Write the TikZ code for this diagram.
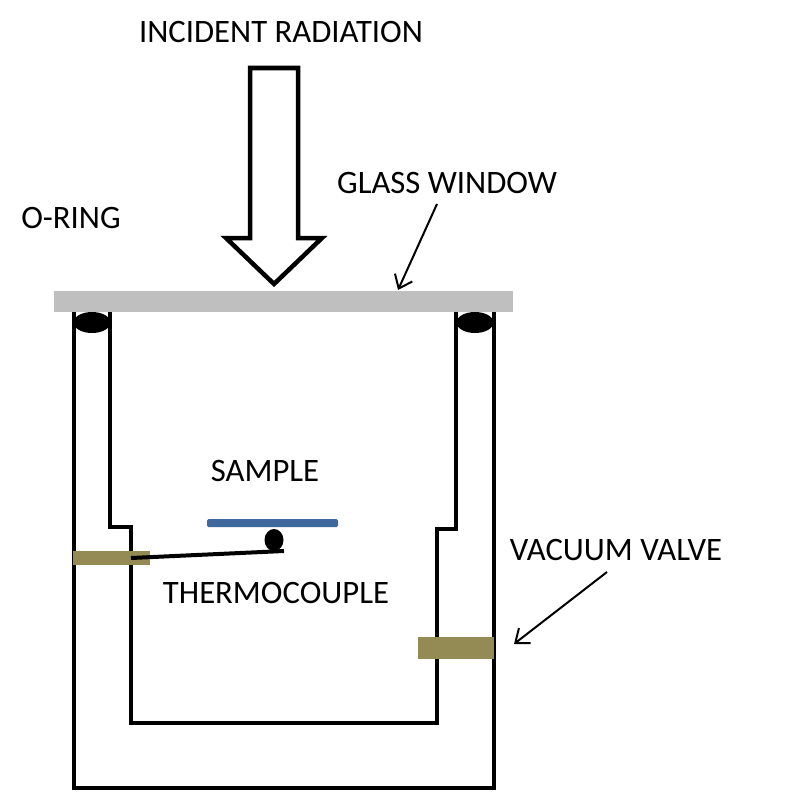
\documentclass[tikz,border=0pt]{standalone}
\usepackage{fontspec}
\setmainfont{Carlito}
\usetikzlibrary{shapes.geometric,arrows.meta}
\definecolor{glasscol}{HTML}{BFBFBF}
\definecolor{valvecol}{HTML}{948A54}
\definecolor{samplecol}{HTML}{3F689F}
\tikzset{
  x=1pt,y=-1pt,
  label/.style={inner sep=0pt,font=\fontsize{32.7}{36}\selectfont,text=black},
  wall/.style={draw=black,line width=4.5pt,miter limit=10},
  valve/.style={fill=valvecol,draw=none,inner sep=0pt,minimum height=0pt},
  ring/.style={ellipse,fill=black,draw=none,inner sep=0pt},
  pointer/.style={draw=black,line width=2pt,-{Straight Barb[length=12pt,width=19pt,line width=2pt]}}
}
\begin{document}
\begin{tikzpicture}
\useasboundingbox (0,0) rectangle (792,792);
\fill[white] (0,0) rectangle (792,792);
% chamber
\draw[wall] (74,312) -- (74,788) -- (494,788) -- (494,312);
\draw[wall] (110,312) -- (110,527) -- (131,527) -- (131,723) -- (437,723) -- (437,529) -- (456,529) -- (456,312);
% glass
\node[fill=glasscol,inner sep=0pt,minimum width=459pt,minimum height=21pt,anchor=north west] (glass) at (54,291) {};
% o-rings
\node[ring,minimum width=37pt,minimum height=21pt] (ringl) at (92,322.5) {};
\node[ring,minimum width=37pt,minimum height=21pt] (ringr) at (475,322.5) {};
% incident arrow
\draw[wall,fill=white] (250,68) -- (298,68) -- (298,238) -- (322,238) -- (274,284) -- (226,238) -- (250,238) -- cycle;
% sample
\node[fill=samplecol,rounded corners=1.5pt,inner sep=0pt,minimum width=131pt,minimum height=8pt] (sample) at (272.5,523) {};
\node[ring,minimum width=19pt,minimum height=22pt] (bead) at (274,540) {};
% valves
\node[valve,minimum width=77pt,minimum height=14pt,anchor=north west] (valvel) at (73,551) {};
\node[valve,minimum width=76pt,minimum height=22pt,anchor=north west] (valver) at (418,637) {};
% thermocouple wire
\coordinate (wa) at (131,558);
\coordinate (wb) at (284,551);
\draw[draw=black,line width=4pt] (wa) -- (wb);
% labels
\node[label] (tinc) at (281,32) {INCIDENT RADIATION};
\node[label] (tgla) at (447,183) {GLASS WINDOW};
\node[label] (tori) at (71,218) {O-RING};
\node[label] (tsam) at (265,471) {SAMPLE};
\node[label] (tthe) at (276,593) {THERMOCOUPLE};
\node[label] (tvac) at (616,550) {VACUUM VALVE};
% pointers
\coordinate (pga) at (437,204);
\coordinate (pgb) at (398,290);
\coordinate (pva) at (607,572);
\coordinate (pvb) at (514,644);
\draw[pointer] (pga) -- (pgb);
\draw[pointer] (pva) -- (pvb);
\end{tikzpicture}
\end{document}
